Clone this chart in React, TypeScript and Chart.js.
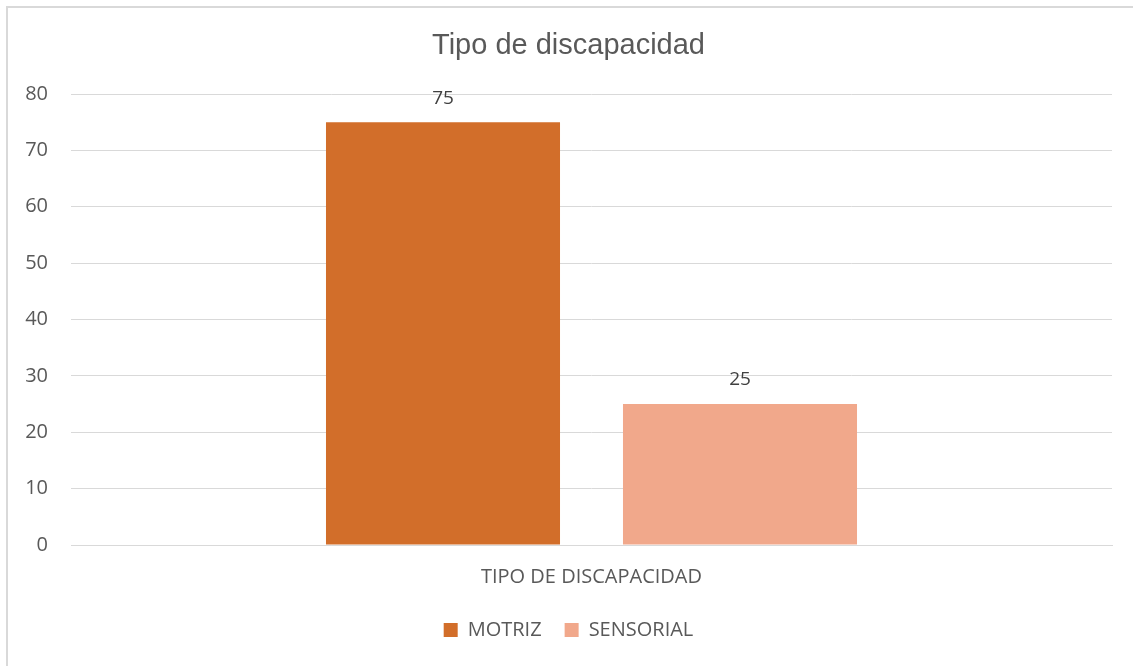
import React, { useEffect, useRef } from "react";
import { Chart, registerables } from "chart.js";

Chart.register(...registerables);

const categories = ["TIPO DE DISCAPACIDAD"];
const seriesNames = ["MOTRIZ", "SENSORIAL"];
const motrizValues = [75];
const sensorialValues = [25];
const seriesColors = ["#D26E2A", "#F1A88B"];
const yTicks = [0, 10, 20, 30, 40, 50, 60, 70, 80];

const LABEL_FONT = "'Open Sans', sans-serif";

const dataLabelPlugin = {
  id: "dataLabels",
  afterDatasetsDraw(chart: any) {
    const ctx = chart.ctx;
    ctx.save();
    ctx.font = `19px ${LABEL_FONT}`;
    ctx.fillStyle = "#404040";
    ctx.textAlign = "center";
    ctx.textBaseline = "middle";
    chart.data.datasets.forEach((ds: any, i: number) => {
      const meta = chart.getDatasetMeta(i);
      meta.data.forEach((el: any, j: number) => {
        ctx.fillText(String(ds.data[j]), el.x, el.y - 24);
      });
    });
    ctx.restore();
  },
};

export default function App() {
  const ref = useRef<HTMLCanvasElement | null>(null);

  useEffect(() => {
    if (!ref.current) return;
    const chart = new Chart(ref.current, {
      type: "bar",
      data: {
        labels: categories,
        datasets: [
          {
            label: seriesNames[0],
            data: motrizValues,
            backgroundColor: seriesColors[0],
            categoryPercentage: 0.5706,
            barPercentage: 0.788,
          },
          {
            label: seriesNames[1],
            data: sensorialValues,
            backgroundColor: seriesColors[1],
            categoryPercentage: 0.5706,
            barPercentage: 0.788,
          },
        ],
      },
      options: {
        animation: false,
        responsive: false,
        maintainAspectRatio: false,
        layout: { padding: { left: 25, right: 21, top: 0, bottom: 16 } },
        plugins: {
          title: {
            display: true,
            text: "Tipo de discapacidad",
            color: "#595959",
            font: { family: "'Liberation Sans', Arial, sans-serif", size: 29, weight: "normal" },
            padding: { top: 28.6, bottom: 30.6 },
          },
          legend: {
            display: true,
            position: "bottom",
            labels: {
              boxWidth: 14,
              boxHeight: 14,
              padding: 23,
              color: "#595959",
              font: { family: LABEL_FONT, size: 20 },
            },
          },
          tooltip: { enabled: false },
        },
        scales: {
          x: {
            grid: { display: false, drawTicks: false },
            border: { display: true, color: "#d9d9d9", width: 1 },
            ticks: {
              color: "#595959",
              font: { family: LABEL_FONT, size: 20 },
              padding: 20,
            },
            afterFit: (scale: any) => {
              scale.height = 52;
            },
          },
          y: {
            min: 0,
            max: 80,
            afterBuildTicks: (scale: any) => {
              scale.ticks = yTicks.map((v) => ({ value: v }));
            },
            afterFit: (scale: any) => {
              scale.width = 46;
            },
            grid: { color: "#d9d9d9", lineWidth: 1, drawTicks: false },
            border: { display: false },
            ticks: {
              color: "#595959",
              font: { family: LABEL_FONT, size: 20 },
              padding: 23,
            },
          },
        },
      },
      plugins: [dataLabelPlugin],
    });
    return () => chart.destroy();
  }, []);

  return (
    <div
      style={{
        position: "fixed",
        left: 0,
        top: 0,
        width: 1133,
        height: 666,
        overflow: "hidden",
        background: "#ffffff",
      }}
    >
      <div
        style={{
          position: "absolute",
          left: 6,
          top: 6,
          width: 1160,
          height: 700,
          border: "2px solid #d9d9d9",
        }}
      />
      <canvas
        ref={ref}
        width={1133}
        height={666}
        style={{ position: "absolute", left: 0, top: 0, width: 1133, height: 666 }}
      />
    </div>
  );
}
